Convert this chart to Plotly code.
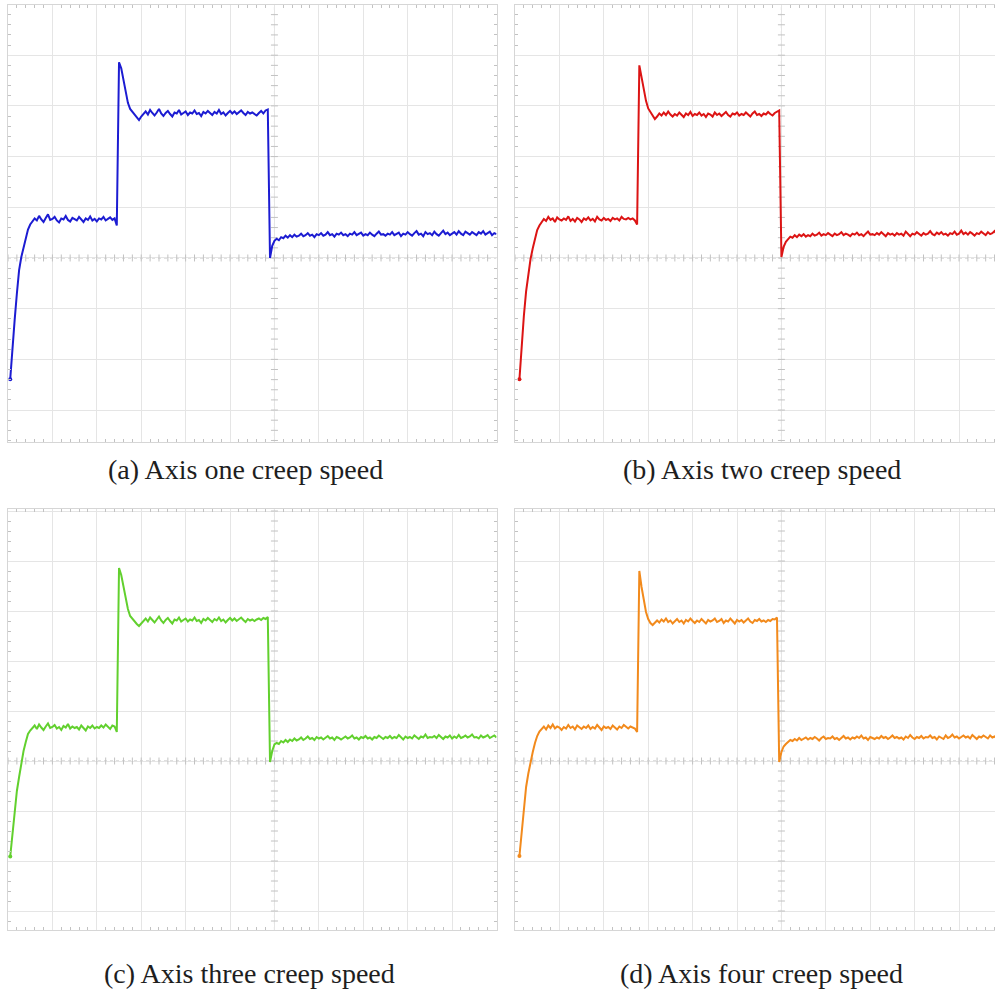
import numpy as np
import plotly.graph_objects as go

# ---------------------------------------------------------------------------
# Creep-speed recordings of the four axes (vertical units = screen divisions).
# Every trace is sampled every 0.05 div; each row below holds 10 samples.
# ---------------------------------------------------------------------------
SAMPLE_STEP = 0.05

axis_one_start = 0.05
axis_one_speed = [
    0.61, 1.25, 1.78, 2.30, 2.76, 3.02, 3.22, 3.40, 3.56, 3.66,
    3.72, 3.78, 3.74, 3.83, 3.76, 3.71, 3.79, 3.86, 3.75, 3.77,
    3.81, 3.74, 3.70, 3.78, 3.76, 3.83, 3.75, 3.72, 3.79, 3.77,
    3.74, 3.81, 3.76, 3.71, 3.78, 3.75, 3.82, 3.74, 3.77, 3.72,
    3.78, 3.76, 3.81, 3.74, 3.77, 3.80, 3.75, 3.78, 3.64, 6.86,
    6.74, 6.52, 6.28, 6.06, 5.94, 5.88, 5.83, 5.78, 5.72, 5.79,
    5.84, 5.89, 5.83, 5.92, 5.86, 5.81, 5.87, 5.94, 5.85, 5.80,
    5.86, 5.90, 5.84, 5.79, 5.87, 5.85, 5.92, 5.83, 5.86, 5.89,
    5.82, 5.87, 5.85, 5.91, 5.84, 5.86, 5.80, 5.88, 5.85, 5.90,
    5.86, 5.82, 5.88, 5.85, 5.92, 5.84, 5.87, 5.81, 5.86, 5.90,
    5.85, 5.89, 5.84, 5.87, 5.91, 5.86, 5.82, 5.88, 5.85, 5.87,
    5.84, 5.81, 5.86, 5.90, 5.85, 5.91, 5.93, 3.00, 3.24, 3.34,
    3.38, 3.35, 3.41, 3.39, 3.44, 3.40, 3.45, 3.41, 3.46, 3.42,
    3.44, 3.48, 3.43, 3.45, 3.49, 3.44, 3.46, 3.41, 3.47, 3.45,
    3.49, 3.44, 3.46, 3.51, 3.45, 3.47, 3.42, 3.48, 3.46, 3.50,
    3.45, 3.47, 3.43, 3.48, 3.46, 3.51, 3.45, 3.47, 3.50, 3.44,
    3.47, 3.45, 3.50, 3.46, 3.43, 3.48, 3.52, 3.46, 3.47, 3.44,
    3.48, 3.46, 3.51, 3.45, 3.47, 3.50, 3.43, 3.48, 3.46, 3.51,
    3.47, 3.44, 3.49, 3.53, 3.46, 3.48, 3.43, 3.51, 3.47, 3.49,
    3.45, 3.52, 3.47, 3.44, 3.49, 3.54, 3.47, 3.50, 3.45, 3.48,
    3.51, 3.46, 3.53, 3.48, 3.45, 3.52, 3.49, 3.46, 3.51, 3.48,
    3.45, 3.51, 3.48, 3.53, 3.46, 3.49, 3.52, 3.45, 3.49, 3.47,
]

axis_two_start = 0.10
axis_two_speed = [
    0.61, 1.30, 1.86, 2.34, 2.70, 2.98, 3.19, 3.38, 3.55, 3.64,
    3.71, 3.77, 3.73, 3.81, 3.75, 3.78, 3.71, 3.80, 3.76, 3.74,
    3.78, 3.75, 3.82, 3.73, 3.77, 3.72, 3.79, 3.76, 3.71, 3.78,
    3.75, 3.80, 3.74, 3.77, 3.72, 3.81, 3.76, 3.74, 3.79, 3.75,
    3.77, 3.73, 3.79, 3.76, 3.78, 3.74, 3.81, 3.77, 3.76, 3.79,
    3.76, 3.78, 3.74, 3.66, 6.80, 6.55, 6.30, 6.10, 5.95, 5.87,
    5.80, 5.74, 5.79, 5.85, 5.81, 5.87, 5.82, 5.89, 5.83, 5.79,
    5.84, 5.81, 5.87, 5.83, 5.78, 5.85, 5.82, 5.88, 5.80, 5.84,
    5.82, 5.87, 5.81, 5.84, 5.78, 5.85, 5.83, 5.79, 5.87, 5.82,
    5.85, 5.80, 5.84, 5.88, 5.82, 5.79, 5.85, 5.83, 5.87, 5.81,
    5.84, 5.82, 5.87, 5.83, 5.79, 5.85, 5.89, 5.82, 5.84, 5.80,
    5.85, 5.83, 5.88, 5.84, 5.81, 5.86, 5.88, 5.91, 3.02, 3.22,
    3.32, 3.38, 3.42, 3.40, 3.45, 3.41, 3.46, 3.43, 3.47, 3.42,
    3.45, 3.43, 3.48, 3.44, 3.46, 3.50, 3.44, 3.47, 3.45, 3.49,
    3.46, 3.43, 3.48, 3.45, 3.47, 3.51, 3.45, 3.48, 3.46, 3.43,
    3.48, 3.46, 3.50, 3.45, 3.47, 3.43, 3.48, 3.52, 3.46, 3.47,
    3.45, 3.49, 3.46, 3.51, 3.47, 3.43, 3.49, 3.46, 3.48, 3.44,
    3.49, 3.46, 3.48, 3.44, 3.52, 3.47, 3.43, 3.48, 3.46, 3.51,
    3.47, 3.44, 3.49, 3.46, 3.48, 3.53, 3.47, 3.45, 3.50, 3.47,
    3.51, 3.46, 3.48, 3.44, 3.49, 3.47, 3.52, 3.46, 3.48, 3.54,
    3.47, 3.50, 3.46, 3.51, 3.48, 3.44, 3.49, 3.47, 3.52, 3.48,
    3.45, 3.51, 3.47, 3.49, 3.53, 3.47, 3.48, 3.51, 3.45, 3.49,
]

axis_three_start = 0.05
axis_three_speed = [
    1.09, 1.55, 2.00, 2.40, 2.68, 2.95, 3.20, 3.38, 3.54, 3.61,
    3.66, 3.71, 3.64, 3.73, 3.67, 3.62, 3.69, 3.75, 3.66, 3.68,
    3.72, 3.65, 3.68, 3.62, 3.70, 3.67, 3.74, 3.65, 3.69, 3.66,
    3.68, 3.63, 3.71, 3.67, 3.61, 3.69, 3.66, 3.71, 3.65, 3.68,
    3.66, 3.71, 3.67, 3.73, 3.68, 3.64, 3.71, 3.69, 3.58, 6.86,
    6.72, 6.50, 6.26, 6.04, 5.90, 5.84, 5.79, 5.74, 5.70, 5.75,
    5.80, 5.85, 5.79, 5.87, 5.82, 5.77, 5.83, 5.89, 5.81, 5.76,
    5.82, 5.86, 5.80, 5.75, 5.83, 5.81, 5.87, 5.79, 5.82, 5.85,
    5.79, 5.83, 5.81, 5.87, 5.80, 5.82, 5.76, 5.84, 5.81, 5.86,
    5.82, 5.78, 5.84, 5.81, 5.87, 5.80, 5.83, 5.77, 5.82, 5.86,
    5.81, 5.85, 5.80, 5.83, 5.87, 5.82, 5.78, 5.84, 5.81, 5.83,
    5.80, 5.83, 5.85, 5.82, 5.86, 5.84, 5.88, 2.98, 3.20, 3.33,
    3.36, 3.34, 3.40, 3.37, 3.42, 3.38, 3.43, 3.40, 3.45, 3.41,
    3.43, 3.47, 3.42, 3.45, 3.49, 3.44, 3.46, 3.42, 3.48, 3.45,
    3.47, 3.43, 3.46, 3.50, 3.45, 3.47, 3.42, 3.48, 3.46, 3.43,
    3.46, 3.49, 3.45, 3.47, 3.51, 3.45, 3.47, 3.43, 3.48, 3.46,
    3.50, 3.45, 3.47, 3.43, 3.48, 3.46, 3.51, 3.47, 3.44, 3.48,
    3.46, 3.50, 3.45, 3.48, 3.46, 3.52, 3.47, 3.43, 3.49, 3.46,
    3.48, 3.45, 3.51, 3.47, 3.44, 3.49, 3.47, 3.53, 3.46, 3.48,
    3.47, 3.50, 3.46, 3.52, 3.48, 3.44, 3.49, 3.47, 3.51, 3.45,
    3.49, 3.46, 3.52, 3.46, 3.48, 3.51, 3.47, 3.49, 3.53, 3.47,
    3.48, 3.45, 3.51, 3.47, 3.49, 3.52, 3.46, 3.48, 3.51, 3.47,
]

axis_four_start = 0.10
axis_four_speed = [
    1.10, 1.60, 2.08, 2.48, 2.75, 2.98, 3.18, 3.36, 3.50, 3.59,
    3.64, 3.69, 3.63, 3.71, 3.66, 3.73, 3.65, 3.69, 3.67, 3.62,
    3.68, 3.65, 3.72, 3.66, 3.69, 3.63, 3.71, 3.67, 3.64, 3.69,
    3.66, 3.71, 3.64, 3.68, 3.65, 3.72, 3.67, 3.62, 3.69, 3.66,
    3.68, 3.64, 3.71, 3.67, 3.63, 3.69, 3.66, 3.72, 3.68, 3.65,
    3.69, 3.67, 3.65, 3.58, 6.80, 6.48, 6.20, 5.98, 5.84, 5.76,
    5.72, 5.76, 5.81, 5.77, 5.83, 5.79, 5.85, 5.78, 5.81, 5.75,
    5.80, 5.84, 5.78, 5.81, 5.75, 5.82, 5.79, 5.85, 5.80, 5.76,
    5.81, 5.78, 5.84, 5.80, 5.75, 5.82, 5.79, 5.81, 5.85, 5.78,
    5.80, 5.84, 5.76, 5.81, 5.79, 5.85, 5.80, 5.75, 5.82, 5.79,
    5.82, 5.77, 5.81, 5.85, 5.79, 5.76, 5.82, 5.80, 5.84, 5.79,
    5.81, 5.78, 5.82, 5.80, 5.84, 5.83, 5.87, 2.98, 3.18, 3.29,
    3.34, 3.38, 3.42, 3.40, 3.44, 3.41, 3.46, 3.42, 3.44, 3.47,
    3.43, 3.46, 3.44, 3.48, 3.45, 3.41, 3.46, 3.49, 3.44, 3.46,
    3.45, 3.49, 3.44, 3.46, 3.42, 3.47, 3.50, 3.45, 3.47, 3.43,
    3.47, 3.45, 3.49, 3.46, 3.51, 3.45, 3.47, 3.42, 3.48, 3.46,
    3.44, 3.47, 3.45, 3.50, 3.46, 3.48, 3.44, 3.47, 3.51, 3.46,
    3.48, 3.45, 3.47, 3.43, 3.49, 3.46, 3.52, 3.47, 3.44, 3.48,
    3.46, 3.50, 3.45, 3.48, 3.47, 3.51, 3.46, 3.48, 3.43, 3.49,
    3.47, 3.44, 3.51, 3.46, 3.48, 3.53, 3.47, 3.49, 3.45, 3.48,
    3.51, 3.47, 3.49, 3.45, 3.52, 3.48, 3.44, 3.49, 3.47, 3.51,
    3.48, 3.45, 3.51, 3.47, 3.49, 3.45, 3.52, 3.48, 3.46, 3.49,
]

captions = [
    "(a) Axis one creep speed",
    "(b) Axis two creep speed",
    "(c) Axis three creep speed",
    "(d) Axis four creep speed",
]
trace_colors = ["#1c1cd2", "#dc1414", "#62d02e", "#f28a1c"]

# ---------------------------------------------------------------------------
# Layout of the 2x2 scope-style panels (pixel boxes on a 995x991 canvas)
# ---------------------------------------------------------------------------
W, H = 995, 991
GRID = "#e5e5e5"
FRAME = "#d6d6d6"
TICK = "#c2c2c2"
CROSS_X, CROSS_Y = 6, 3   # dashed centre cross of the screen

panels = [
    dict(start=axis_one_start, speed=axis_one_speed,
         px=(8, 496.5), py=(5, 442), xr=[0, 11], yr=[-0.63, 7.99], closed=True,
         cap=(245, 470)),
    dict(start=axis_two_start, speed=axis_two_speed,
         px=(515, 995), py=(5, 442), xr=[0, 10.81], yr=[-0.63, 7.99], closed=False,
         cap=(762, 470)),
    dict(start=axis_three_start, speed=axis_three_speed,
         px=(8, 496.5), py=(509, 930), xr=[0, 11], yr=[-0.38, 8.04], closed=True,
         cap=(250, 973)),
    dict(start=axis_four_start, speed=axis_four_speed,
         px=(515, 995), py=(509, 930), xr=[0, 10.81], yr=[-0.38, 8.04], closed=False,
         cap=(761, 973)),
]

fig = go.Figure()
layout = dict(
    width=W, height=H,
    margin=dict(l=0, r=0, t=0, b=0),
    paper_bgcolor="white", plot_bgcolor="white",
    showlegend=False,
    shapes=[], annotations=[],
)

for i, (p, color, cap) in enumerate(zip(panels, trace_colors, captions), start=1):
    sx = "" if i == 1 else str(i)
    xa, ya = f"x{sx}", f"y{sx}"

    minor = dict(dtick=0.2, tick0=0, ticks="inside", ticklen=3,
                 tickcolor=TICK, tickwidth=1, showgrid=False)
    layout[f"xaxis{sx}"] = dict(
        domain=[p["px"][0] / W, p["px"][1] / W], range=p["xr"], anchor=ya,
        showgrid=True, gridcolor=GRID, gridwidth=1, dtick=1, tick0=0,
        showticklabels=False, ticks="", zeroline=False,
        showline=True, linecolor=FRAME, linewidth=1, mirror="allticks",
        minor=minor, fixedrange=True,
    )
    layout[f"yaxis{sx}"] = dict(
        domain=[1 - p["py"][1] / H, 1 - p["py"][0] / H], range=p["yr"], anchor=xa,
        showgrid=True, gridcolor=GRID, gridwidth=1, dtick=1, tick0=0,
        showticklabels=False, ticks="", zeroline=False,
        showline=True, linecolor=FRAME, linewidth=1,
        mirror="allticks" if p["closed"] else False,
        minor=minor, fixedrange=True,
    )

    # dashed centre cross
    layout["shapes"].append(dict(type="line", xref=xa, yref=ya, layer="below",
                                 x0=CROSS_X, x1=CROSS_X, y0=p["yr"][0], y1=p["yr"][1],
                                 line=dict(color="#bfbfbf", width=1, dash="dot")))
    layout["shapes"].append(dict(type="line", xref=xa, yref=ya, layer="below",
                                 x0=p["xr"][0], x1=p["xr"][1], y0=CROSS_Y, y1=CROSS_Y,
                                 line=dict(color="#bfbfbf", width=1, dash="dot")))

    # small graduation marks along the centre cross
    gy = np.arange(np.ceil(p["yr"][0] / 0.2) * 0.2, p["yr"][1], 0.2)
    gx = np.arange(0, p["xr"][1], 0.2)
    fig.add_trace(go.Scatter(
        x=np.full(gy.size, CROSS_X), y=gy, mode="markers", xaxis=xa, yaxis=ya,
        marker=dict(symbol="line-ew", size=5, line=dict(color=TICK, width=1)),
        hoverinfo="skip"))
    fig.add_trace(go.Scatter(
        x=gx, y=np.full(gx.size, CROSS_Y), mode="markers", xaxis=xa, yaxis=ya,
        marker=dict(symbol="line-ns", size=5, line=dict(color=TICK, width=1)),
        hoverinfo="skip"))

    # the recorded speed trace
    speed = np.asarray(p["speed"])
    t = p["start"] + SAMPLE_STEP * np.arange(speed.size)
    fig.add_trace(go.Scatter(
        x=t, y=speed, mode="lines", xaxis=xa, yaxis=ya,
        line=dict(color=color, width=2), hoverinfo="skip"))
    fig.add_trace(go.Scatter(
        x=t[:1], y=speed[:1], mode="markers", xaxis=xa, yaxis=ya,
        marker=dict(color=color, size=4), hoverinfo="skip"))

    layout["annotations"].append(dict(
        text=cap, xref="paper", yref="paper",
        x=p["cap"][0] / W, y=1 - p["cap"][1] / H,
        xanchor="center", yanchor="middle", showarrow=False,
        font=dict(family="Liberation Serif, Times New Roman, serif", size=28,
                  color="#1e1e1e")))

fig.update_layout(**layout)
fig.write_html("out.html")
